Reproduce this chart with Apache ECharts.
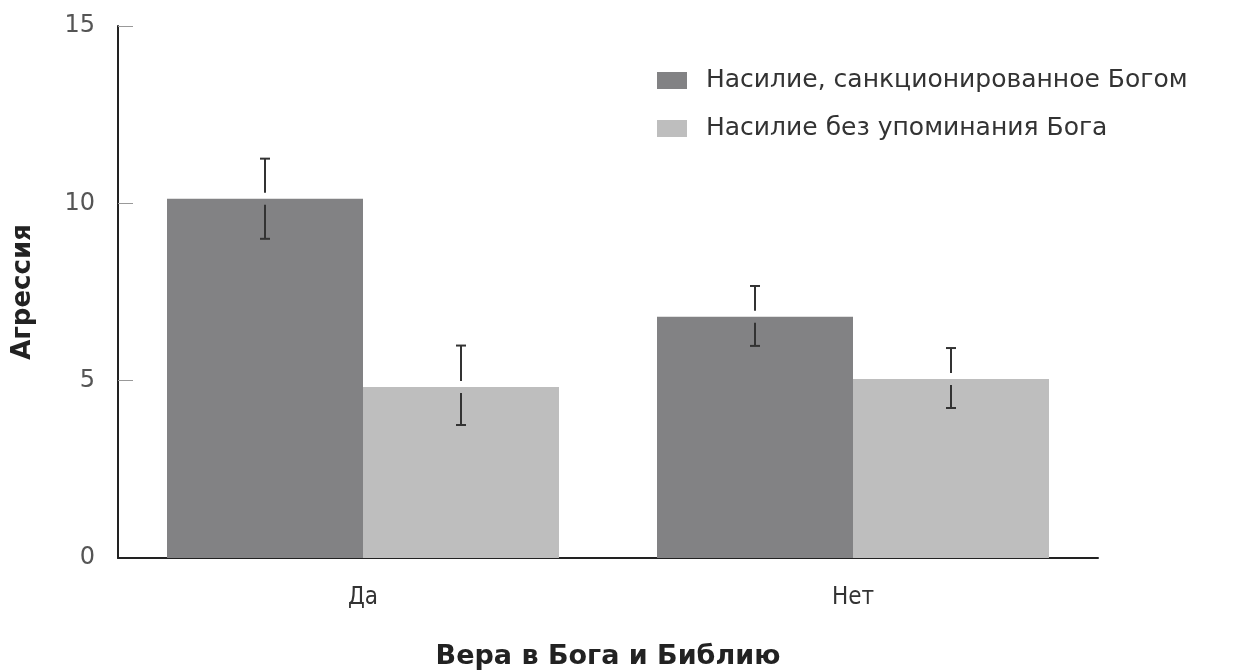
<!DOCTYPE html>
<html>
<head>
<meta charset="utf-8">
<script src="https://cdn.jsdelivr.net/npm/echarts@6/dist/echarts.min.js"></script>
<style>
  html, body { margin: 0; padding: 0; background: #fff; }
  #chart { width: 1239px; height: 671px; }
</style>
</head>
<body>
<div id="chart"></div>
<script>
// категории и значения
const categories = ['Да', 'Нет'];
const seriesNames = ['Насилие, санкционированное Богом', 'Насилие без упоминания Бога'];
const godMean = [10.13, 6.8];
const godLow = [9.0, 5.98];
const godHigh = [11.26, 7.67];
const plainMean = [4.82, 5.05];
const plainLow = [3.75, 4.23];
const plainHigh = [5.99, 5.92];
const yTicks = [0, 5, 10, 15];

const darkColor = '#828284';
const lightColor = '#bebebe';

// планки погрешностей: усы с разрывом у верхнего края столбца
const errorBars = (shift) => (params, api) => {
  const idx = api.value(0);
  const mid = api.coord([idx, api.value(1)]);
  const lo = api.coord([idx, api.value(2)]);
  const hi = api.coord([idx, api.value(3)]);
  const x = mid[0] + shift * api.size([1, 0])[0];
  const gap = 6;
  const cap = 5;
  const style = { stroke: '#333', lineWidth: 2 };
  return {
    type: 'group',
    children: [
      { type: 'line', shape: { x1: x, y1: hi[1], x2: x, y2: mid[1] - gap }, style },
      { type: 'line', shape: { x1: x, y1: mid[1] + gap, x2: x, y2: lo[1] }, style },
      { type: 'line', shape: { x1: x - cap, y1: hi[1], x2: x + cap, y2: hi[1] }, style },
      { type: 'line', shape: { x1: x - cap, y1: lo[1], x2: x + cap, y2: lo[1] }, style }
    ]
  };
};

const chart = echarts.init(document.getElementById('chart'));
chart.setOption({
  animation: false,
  grid: { left: 118, right: 141, top: 26, bottom: 113, outerBoundsMode: 'none' },
  legend: {
    data: seriesNames,
    orient: 'vertical',
    left: 657,
    top: 68,
    padding: 0,
    icon: 'rect',
    itemWidth: 30,
    itemHeight: 17,
    itemGap: 23,
    textStyle: { fontFamily: 'DejaVu Sans', fontSize: 25, color: '#333', lineHeight: 24, padding: [0, 0, 0, 14] }
  },
  xAxis: {
    type: 'category',
    data: categories,
    z: 2,
    name: 'Вера в Бога и Библию',
    nameLocation: 'middle',
    nameGap: 85,
    nameTextStyle: { fontFamily: 'DejaVu Sans', fontSize: 27, fontWeight: 'bold', color: '#222' },
    axisLine: { lineStyle: { color: '#222', width: 2 } },
    axisTick: { show: false },
    axisLabel: { margin: 28, fontFamily: 'DejaVu Sans Condensed', fontSize: 24, color: '#333' }
  },
  yAxis: {
    type: 'value',
    min: yTicks[0],
    max: yTicks[yTicks.length - 1],
    interval: 5,
    z: 1,
    name: 'Агрессия',
    nameLocation: 'middle',
    nameRotate: 90,
    nameGap: 82,
    nameTextStyle: { fontFamily: 'DejaVu Sans', fontSize: 26, fontWeight: 'bold', color: '#222' },
    axisLine: { show: true, lineStyle: { color: '#222', width: 2 } },
    axisTick: { show: true, inside: true, length: 15, lineStyle: { color: '#999', width: 1 } },
    axisLabel: { margin: 23, fontFamily: 'DejaVu Sans', fontSize: 24, color: '#555' },
    splitLine: { show: false }
  },
  series: [
    {
      name: seriesNames[0],
      type: 'bar',
      data: godMean,
      barGap: 0,
      barCategoryGap: '20%',
      itemStyle: { color: darkColor }
    },
    {
      name: seriesNames[1],
      type: 'bar',
      data: plainMean,
      itemStyle: { color: lightColor }
    },
    {
      type: 'custom',
      renderItem: errorBars(-0.2),
      data: categories.map((c, i) => [i, godMean[i], godLow[i], godHigh[i]]),
      encode: { x: 0, y: [1, 2, 3] },
      z: 10
    },
    {
      type: 'custom',
      renderItem: errorBars(0.2),
      data: categories.map((c, i) => [i, plainMean[i], plainLow[i], plainHigh[i]]),
      encode: { x: 0, y: [1, 2, 3] },
      z: 10
    }
  ]
});
</script>
</body>
</html>
